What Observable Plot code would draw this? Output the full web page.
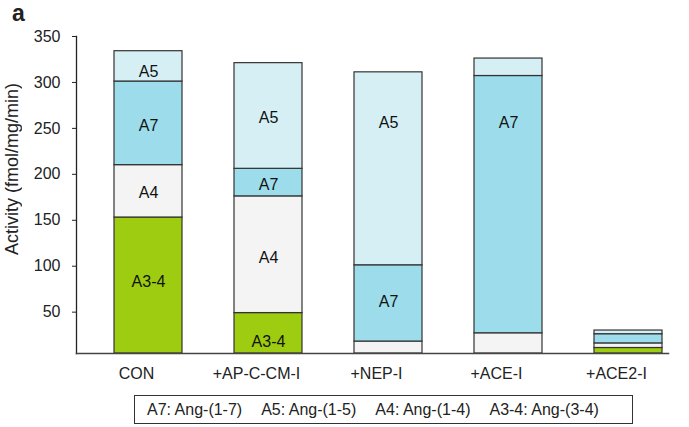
<!DOCTYPE html>
<html>
<head>
<meta charset="utf-8">
<script src="https://cdn.jsdelivr.net/npm/d3@7"></script>
<script src="https://cdn.jsdelivr.net/npm/@observablehq/plot@0.6"></script>
<style>
  body { margin: 0; background: white; font-family: 'Liberation Sans', Arial, sans-serif; color: #222; }
  #wrap { position: relative; width: 689px; height: 427px; overflow: hidden; }
  #chart { position: absolute; left: 0; top: 0; }
  #tag { position: absolute; left: 12px; top: 0px; font-size: 23px; font-weight: bold; line-height: 26px; }
  #ylab { position: absolute; left: 2px; top: 89px; width: 20px; height: 166px; line-height: 20px;
          white-space: nowrap; font-size: 18px; writing-mode: vertical-rl; transform: rotate(180deg);
          text-align: center; }
  #legend { position: absolute; left: 134px; top: 395px; width: 485px; height: 27px; border: 1px solid #333;
            display: flex; align-items: center; gap: 19px; padding-left: 12px; box-sizing: content-box;
            font-size: 16px; white-space: nowrap; }
</style>
</head>
<body>
<div id="wrap">
  <div id="chart"></div>
  <div id="tag">a</div>
  <div id="ylab">Activity (fmol/mg/min)</div>
  <div id="legend"></div>
</div>
<script>
// categories and series
const categories = ["CON", "+AP-C-CM-I", "+NEP-I", "+ACE-I", "+ACE2-I"];
const series = ["A3-4", "A4", "A7", "A5"];
// segment values (fmol/mg/min), per category
const a34 = [153, 49, 0, 0, 11];
const a4  = [57, 127, 18, 27, 5];
const a7  = [91, 30, 83, 280, 10];
const a5  = [33, 115, 210, 19, 4];
// y-axis ticks
const yTicks = [50, 100, 150, 200, 250, 300, 350];
// in-bar labels: category, text, value at which the label sits
const labelCat  = ["CON", "CON", "CON", "CON", "+AP-C-CM-I", "+AP-C-CM-I", "+AP-C-CM-I", "+AP-C-CM-I", "+NEP-I", "+NEP-I", "+ACE-I"];
const labelText = ["A5", "A7", "A4", "A3-4", "A5", "A7", "A4", "A3-4", "A5", "A7", "A7"];
const labelVal  = [311, 253, 180, 83, 261, 189, 109, 18, 256, 61, 256];
// legend entries
const legendItems = ["A7: Ang-(1-7)", "A5: Ang-(1-5)", "A4: Ang-(1-4)", "A3-4: Ang-(3-4)"];

const seriesValues = [a34, a4, a7, a5];
const rows = categories.flatMap((c, i) =>
  series.map((s, j) => ({category: c, series: s, value: seriesValues[j][i]}))
).filter(d => d.value > 0);
const labels = labelCat.map((c, i) => ({category: c, text: labelText[i], value: labelVal[i]}));

const chart = Plot.plot({
  width: 689,
  height: 385,
  marginTop: 36,
  marginBottom: 32,
  marginLeft: 76,
  marginRight: 21,
  style: {fontFamily: "'Liberation Sans', Arial, sans-serif", fontSize: "16px", color: "#222", background: "white", overflow: "visible"},
  x: {domain: categories, paddingInner: 0.436, paddingOuter: 0.172, align: 0.865, label: null},
  y: {domain: [5, 350], clamp: true, label: null},
  color: {domain: series, range: ["#9dcc10", "#f4f4f4", "#9ddcea", "#d6eff4"]},
  marks: [
    Plot.barY(rows, {x: "category", y: "value", fill: "series", stroke: "#333", strokeWidth: 1.2, order: null}),
    Plot.text(labels, {x: "category", y: "value", text: "text", fontSize: 16, fill: "#111"}),
    Plot.frame({anchor: "left", stroke: "#222", strokeWidth: 1.3}),
    Plot.frame({anchor: "bottom", stroke: "#444", strokeWidth: 1.5}),
    Plot.axisY({ticks: yTicks, tickSize: 4, tickPadding: 12, label: null, fontSize: 16}),
    Plot.axisX({tickSize: 0, tickPadding: 14, dx: -12, label: null, fontSize: 16})
  ]
});
document.getElementById("chart").appendChild(chart);

const leg = document.getElementById("legend");
legendItems.forEach(t => { const s = document.createElement("span"); s.textContent = t; leg.appendChild(s); });
</script>
</body>
</html>
